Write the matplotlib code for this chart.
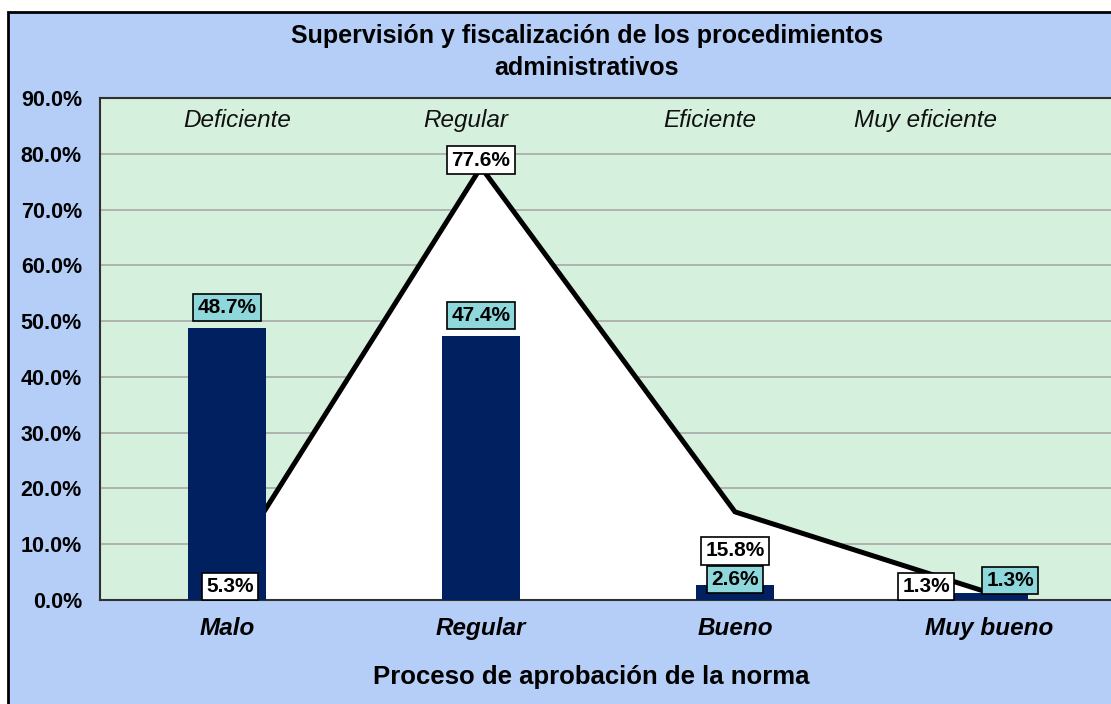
import matplotlib
matplotlib.use("Agg")
import matplotlib.pyplot as plt
from matplotlib.patches import Rectangle
from matplotlib.ticker import FuncFormatter, MultipleLocator

plt.rcParams["font.family"] = ["Liberation Sans", "DejaVu Sans"]

# ---------------- data ----------------
categories = ["Malo", "Regular", "Bueno", "Muy bueno"]
bar_values = [48.7, 47.4, 2.6, 1.3]          # proceso de aprobación de la norma
line_values = [5.3, 77.6, 15.8, 1.3]         # supervisión y fiscalización
top_labels = ["Deficiente", "Regular", "Eficiente", "Muy eficiente"]
top_label_x = [0.04, 0.94, 1.90, 2.75]

FIG_BG = "#B4CEF8"
PLOT_BG = "#D5F0DC"
NAVY = "#002060"
TEAL = "#8ED8DC"

fig = plt.figure(figsize=(11.11, 7.04), dpi=100)
fig.patch.set_facecolor("white")
fig.patches.append(Rectangle((8 / 1111, -0.01), 1.05, 1 - 12 / 704 + 0.01,
                             transform=fig.transFigure, facecolor=FIG_BG,
                             edgecolor="black", linewidth=2, zorder=-10))

ax = fig.add_axes([100 / 1111, 104 / 704, 1016 / 1111, 502 / 704])
ax.set_facecolor(PLOT_BG)

x = list(range(len(categories)))

# white area under the line, then the line, bars in front
ax.fill_between(x, line_values, 0, color="white", zorder=1)
ax.plot(x, line_values, color="black", linewidth=3.6, zorder=2,
        solid_joinstyle="miter")
ax.bar(x, bar_values, width=0.31, color=NAVY, zorder=3)

ax.set_xlim(-0.5, 3.5)
ax.set_ylim(0, 90)
ax.yaxis.set_major_locator(MultipleLocator(10))
ax.yaxis.set_major_formatter(FuncFormatter(lambda v, p: f"{v:.1f}%"))
ax.grid(axis="y", color="#A8A8A8", linewidth=1.2, zorder=0)
ax.set_axisbelow(True)
ax.tick_params(axis="y", length=0, pad=13, labelsize=15.5)
ax.tick_params(axis="x", length=0, pad=12, labelsize=17.5)
for lab in ax.get_yticklabels():
    lab.set_fontweight("bold")
ax.set_xticks(x)
ax.set_xticklabels(categories, fontweight="bold", fontstyle="italic")

for side in ["left", "top", "bottom"]:
    ax.spines[side].set_color("#303030")
    ax.spines[side].set_linewidth(1.5)
ax.spines["right"].set_visible(False)

ax.set_xlabel("Proceso de aprobación de la norma", fontsize=18.5,
              fontweight="bold")
ax.xaxis.set_label_coords(0.5 - 0.016, -(677 - 600) / 502)
ax.xaxis.label.set_va("center")

fig.text(0.528, 1 - 52 / 704,
         "Supervisión y fiscalización de los procedimientos\nadministrativos",
         ha="center", va="center", fontsize=18, fontweight="bold",
         linespacing=1.4)

for tx, t in zip(top_label_x, top_labels):
    ax.text(tx, 86, t, ha="center", va="center", fontsize=17.5,
            fontstyle="italic", color="#111111")

# labels for the line (white boxes)
line_offsets = [(3, -16), (0, 7), (0, -39), (-63, 6)]
for xi, v, off in zip(x, line_values, line_offsets):
    ax.annotate(f"{v:.1f}%", (xi, v), xytext=off, textcoords="offset pixels",
                ha="center", va="center", fontsize=15, fontweight="bold",
                bbox=dict(boxstyle="square,pad=0.2", facecolor="white",
                          edgecolor="black", linewidth=1.2), zorder=5)

# labels for the bars (teal boxes)
bar_offsets = [(0, 21), (0, 20), (0, 6), (21, 12)]
for xi, v, off in zip(x, bar_values, bar_offsets):
    ax.annotate(f"{v:.1f}%", (xi, v), xytext=off, textcoords="offset pixels",
                ha="center", va="center", fontsize=15, fontweight="bold",
                bbox=dict(boxstyle="square,pad=0.2", facecolor=TEAL,
                          edgecolor="black", linewidth=1.2), zorder=5)

fig.savefig("out.png", dpi=100, facecolor=fig.get_facecolor())
